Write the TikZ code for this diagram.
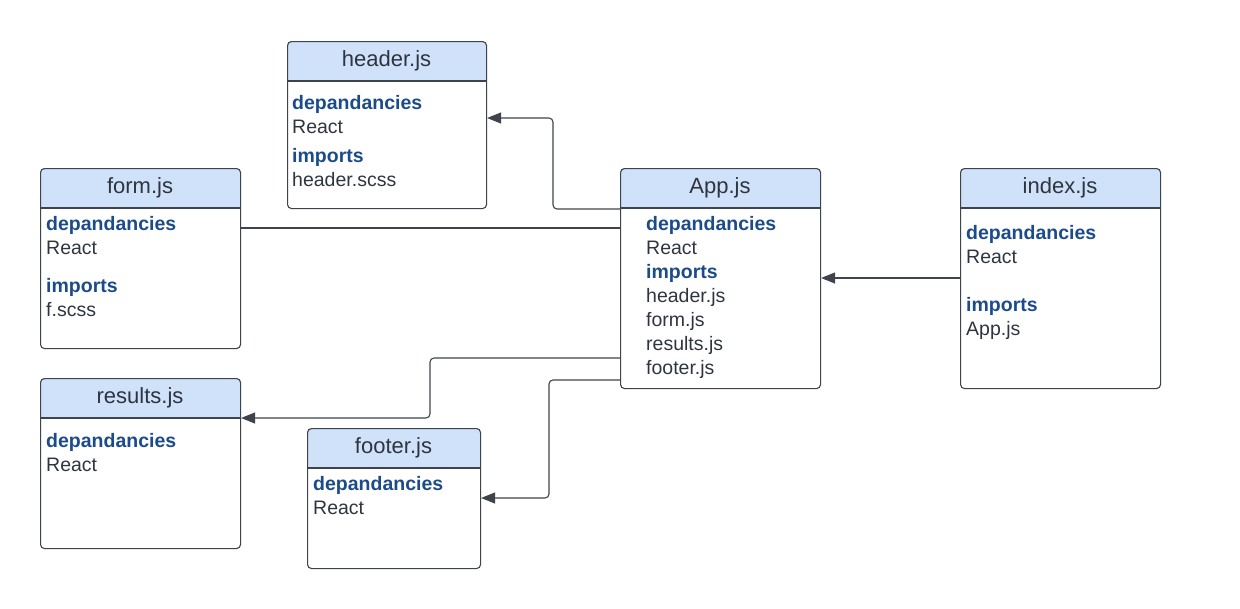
\documentclass[tikz,border=0pt]{standalone}
\usepackage{fontspec}
\setmainfont{Liberation Sans}
\usetikzlibrary{arrows.meta}
\definecolor{hdrfill}{HTML}{CFE2FA}
\definecolor{edge}{HTML}{3F434C}
\definecolor{txt}{HTML}{2E3440}
\definecolor{kw}{HTML}{1C4B8A}
\tikzset{
  boxframe/.style={draw=edge, line width=1.1pt, rounded corners=4pt, fill=none, inner sep=0pt, anchor=north west},
  titletext/.style={font=\fontsize{22}{24}\selectfont, text=txt, anchor=center, inner sep=0pt},
  bodytext/.style={font=\fontsize{19.5}{22}\selectfont, text=txt, anchor=base west, inner sep=0pt},
  kwtext/.style={bodytext, text=kw, font=\fontsize{19.5}{22}\selectfont\bfseries},
  conn/.style={draw=edge, line width=1.1pt, rounded corners=4pt},
  arr/.style={conn, -{Triangle[length=14pt,width=11pt]}},
}
\newcommand{\umlbox}[6]{% name, x1, y1, x2, y2, title
  \fill[hdrfill, rounded corners=4pt] (#2,#3) rectangle (#4,#3+40);
  \fill[hdrfill] (#2,#3+20) rectangle (#4,#3+40);
  \draw[edge, line width=1.1pt] (#2,#3+40) -- (#4,#3+40);
  \node[boxframe, minimum width={(#4-#2)*1pt}, minimum height={(#5-#3)*1pt}] (#1) at (#2,#3) {};
  \node[titletext] (#1-title) at ({(#2+#4)/2},#3+19.5) {#6};
}
\begin{document}
\begin{tikzpicture}[x=1pt,y=-1pt]
\useasboundingbox (0,0) rectangle (1240,608);

% boxes
\umlbox{header}{287}{41}{486}{208}{header.js}
\umlbox{form}{40}{168}{240}{348}{form.js}
\umlbox{results}{40}{378}{240}{548}{results.js}
\umlbox{footer}{307}{428}{480}{568}{footer.js}
\umlbox{app}{620}{168}{820}{388}{App.js}
\umlbox{index}{960}{168}{1160}{388}{index.js}

% header.js contents
\node[kwtext] (h1) at (292,109) {depandancies};
\node[bodytext] (h2) at (292,133) {React};
\node[kwtext] (h3) at (292,162) {imports};
\node[bodytext] (h4) at (292,186) {header.scss};

% form.js contents
\node[kwtext] (f1) at (46,230) {depandancies};
\node[bodytext] (f2) at (46,254) {React};
\node[kwtext] (f3) at (46,292) {imports};
\node[bodytext] (f4) at (46,316) {f.scss};

% results.js contents
\node[kwtext] (r1) at (46,447) {depandancies};
\node[bodytext] (r2) at (46,471) {React};

% footer.js contents
\node[kwtext] (ft1) at (313,490) {depandancies};
\node[bodytext] (ft2) at (313,514) {React};

% App.js contents
\node[kwtext] (a1) at (646,230) {depandancies};
\node[bodytext] (a2) at (646,254) {React};
\node[kwtext] (a3) at (646,278) {imports};
\node[bodytext] (a4) at (646,302) {header.js};
\node[bodytext] (a5) at (646,326) {form.js};
\node[bodytext] (a6) at (646,350) {results.js};
\node[bodytext] (a7) at (646,374) {footer.js};

% index.js contents
\node[kwtext] (i1) at (966,239) {depandancies};
\node[bodytext] (i2) at (966,263) {React};
\node[kwtext] (i3) at (966,311) {imports};
\node[bodytext] (i4) at (966,335) {App.js};

% connectors
\draw[arr] (app.west |- 0,209) -- (553,209) -- (553,118) -- (header.east |- 0,118);
\draw[conn] (form.east |- 0,228) -- (app.west |- 0,228);
\draw[arr] (app.west |- 0,358) -- (430,358) -- (430,418) -- (results.east |- 0,418);
\draw[arr] (app.west |- 0,380) -- (549,380) -- (549,498) -- (footer.east |- 0,498);
\draw[arr] (index.west |- 0,278) -- (app.east |- 0,278);
\end{tikzpicture}
\end{document}
